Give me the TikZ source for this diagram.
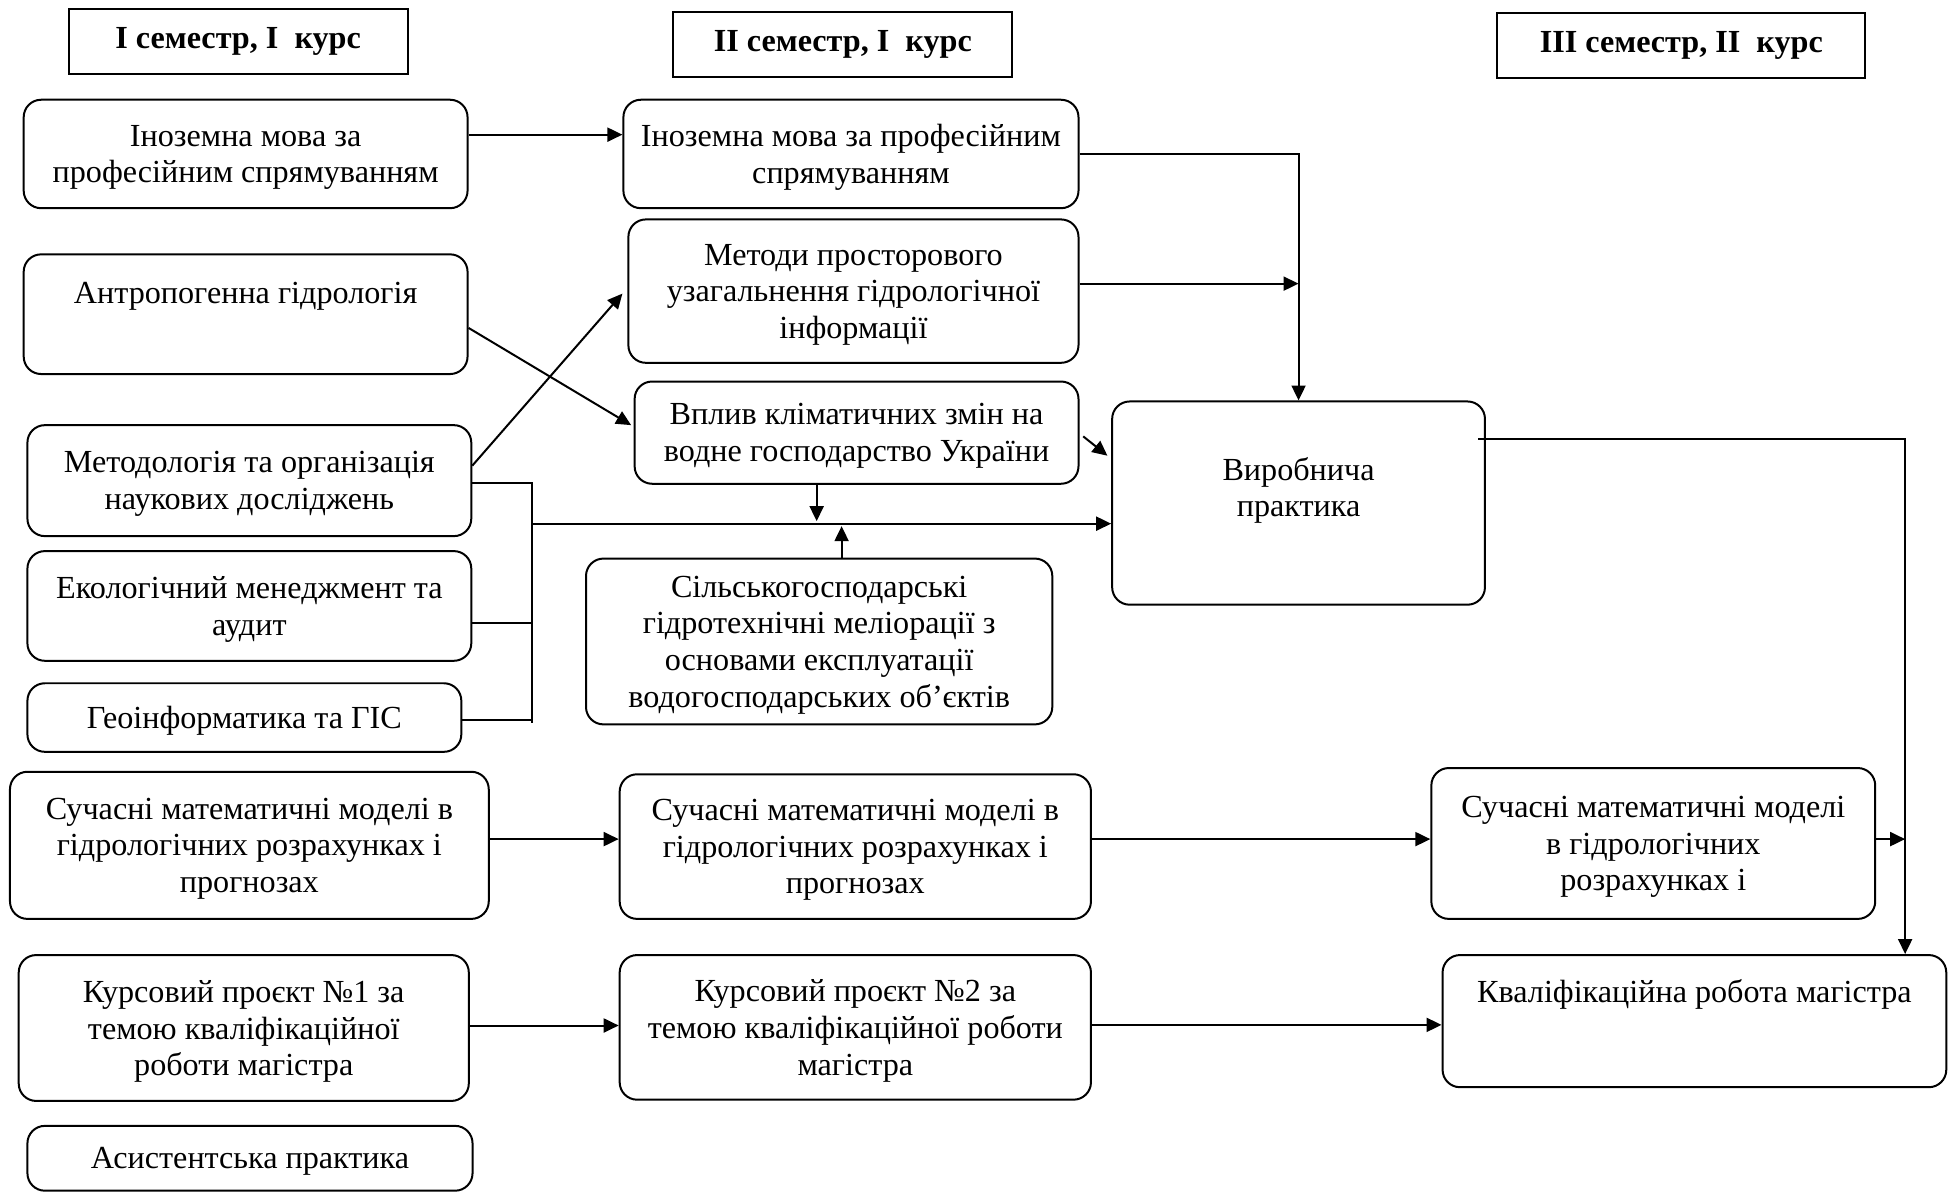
\documentclass[tikz,border=0pt]{standalone}
\usepackage{fontspec}
\setmainfont{Liberation Serif}
\usetikzlibrary{arrows.meta}

\tikzset{
  kurs/.style={draw, line width=0.8pt, minimum height=26pt,
    font=\bfseries\fontsize{12.9pt}{14.7pt}\selectfont},
  disc/.style={draw, line width=0.8pt, rounded corners=7pt, align=center,
    inner sep=2pt, text depth=0pt, font=\fontsize{12.9pt}{14.7pt}\selectfont},
  strl/.style={line width=0.8pt, -{Triangle[length=6pt,width=5.6pt]}},
}

\begin{document}
\begin{tikzpicture}[x=0.5pt, y=-0.5pt]
    \useasboundingbox (0,0) rectangle (1568,956);

    % семестри
    \node[kurs, minimum width=136pt] (H1) at (191,33) {I семестр, I~~курс};
    \node[kurs, minimum width=136pt] (H2) at (676,36) {II семестр, I~~курс};
    \node[kurs, minimum width=147.5pt] (H3) at (1348.5,36.5) {III семестр, II~~курс};

    % I семестр
    \node[disc, minimum width=178pt, minimum height=43.5pt] (A1) at (197,123.5)
        {Іноземна мова за\\професійним спрямуванням};
    \node[disc, minimum width=178pt, minimum height=48pt, text depth=17pt] (A2) at (197,252)
        {Антропогенна гідрологія};
    \node[disc, minimum width=178pt, minimum height=44.5pt] (A3) at (200,385.5)
        {Методологія та організація\\наукових досліджень};
    \node[disc, minimum width=178pt, minimum height=44pt] (A4) at (200,486)
        {Екологічний менеджмент та\\аудит};
    \node[disc, minimum width=174pt, minimum height=27.5pt] (A5) at (196,575.5)
        {Геоінформатика та ГІС};
    \node[disc, minimum width=192pt, minimum height=59pt] (A6) at (200,678)
        {Сучасні математичні моделі в\\гідрологічних розрахунках і\\прогнозах};
    \node[disc, minimum width=180.5pt, minimum height=58.5pt] (A7) at (195.5,824.5)
        {Курсовий проєкт №1 за\\темою кваліфікаційної\\роботи магістра};
    \node[disc, minimum width=178.5pt, minimum height=26pt] (A8) at (200.5,929)
        {Асистентська практика};

    % II семестр
    \node[disc, minimum width=182.5pt, minimum height=43.5pt] (B1) at (682.5,123.5)
        {Іноземна мова за професійним\\спрямуванням};
    \node[disc, minimum width=180.5pt, minimum height=57.5pt] (B2) at (684.5,233.5)
        {Методи просторового\\узагальнення гідрологічної\\інформації};
    \node[disc, minimum width=178pt, minimum height=41pt] (B3) at (687,347)
        {Вплив кліматичних змін на\\водне господарство України};
    \node[disc, minimum width=187pt, minimum height=66.5pt] (B4) at (657,514.5)
        {Сільськогосподарські\\гідротехнічні меліорації з\\основами експлуатації\\водогосподарських об’єктів};
    \node[disc, minimum width=189pt, minimum height=58pt] (B5) at (686,679)
        {Сучасні математичні моделі в\\гідрологічних розрахунках і\\прогнозах};
    \node[disc, minimum width=189pt, minimum height=58pt] (B6) at (686,824)
        {Курсовий проєкт №2 за\\темою кваліфікаційної роботи\\магістра};

    % III семестр
    \node[disc, minimum width=149.5pt, minimum height=81.5pt, text depth=13pt] (C1) at (1041.5,403.5)
        {Виробнича\\практика};
    \node[disc, minimum width=178pt, minimum height=60.5pt] (C2) at (1326,676.5)
        {Сучасні математичні моделі\\в гідрологічних\\розрахунках і};
    \node[disc, minimum width=202pt, minimum height=53pt, text depth=24pt] (C3) at (1359,819)
        {Кваліфікаційна робота магістра};

    % вузли ліній
    \coordinate (bus) at (427,420);
    \coordinate (busend) at (427,580);
    \coordinate (rt) at (1528,352);

    % стрілки
    \draw[strl] ([yshift=7.75pt]A1.east) -- ([yshift=7.75pt]B1.west);
    \draw[strl] (B1.east) -| (C1.north);
    \draw[strl] ([yshift=3pt]B2.east) -- ([yshift=3pt]B2.east -| C1.north);
    \draw[strl] ([yshift=-5.5pt]A2.east) -- ([xshift=-1pt,yshift=3pt]B3.west);
    \draw[strl] ([yshift=6pt]A3.east) -- ([xshift=-2pt,yshift=-1pt]B2.west);
    \draw[strl] ([xshift=1.5pt,yshift=-1.5pt]B3.east) -- ([xshift=-1.5pt,yshift=19pt]C1.west);

    % шина
    \draw[line width=0.8pt] ([yshift=-0.75pt]A3.east) -| (busend);
    \draw[line width=0.8pt] ([yshift=-7pt]A4.east) -- ([yshift=-7pt]A4.east -| busend);
    \draw[line width=0.8pt] ([yshift=-1pt]A5.east) -- ([yshift=-1pt]A5.east -| busend);
    \draw[strl] (bus) -- (bus -| C1.west);
    \draw[strl] ([xshift=-16pt]B3.south) -- ([xshift=-16pt,yshift=1pt]B3.south |- bus);
    \draw[strl] ([xshift=9pt]B4.north) -- ([xshift=9pt,yshift=-1pt]B4.north |- bus);

    \draw[strl] ([xshift=-3pt]C1.east |- rt) -- (rt) -- (rt |- C3.north);
    \draw[strl] ([yshift=1.75pt]C2.east) -- ([yshift=1.75pt]C2.east -| rt);

    \draw[strl] ([yshift=2.5pt]A6.east) -- ([yshift=2.5pt]A6.east -| B5.west);
    \draw[strl] ([yshift=3pt]B5.east) -- ([yshift=3pt]B5.east -| C2.west);
    \draw[strl] ([yshift=1pt]A7.east) -- ([yshift=1pt]A7.east -| B6.west);
    \draw[strl] ([yshift=1pt]B6.east) -- ([yshift=1pt]B6.east -| C3.west);

\end{tikzpicture}
\end{document}
